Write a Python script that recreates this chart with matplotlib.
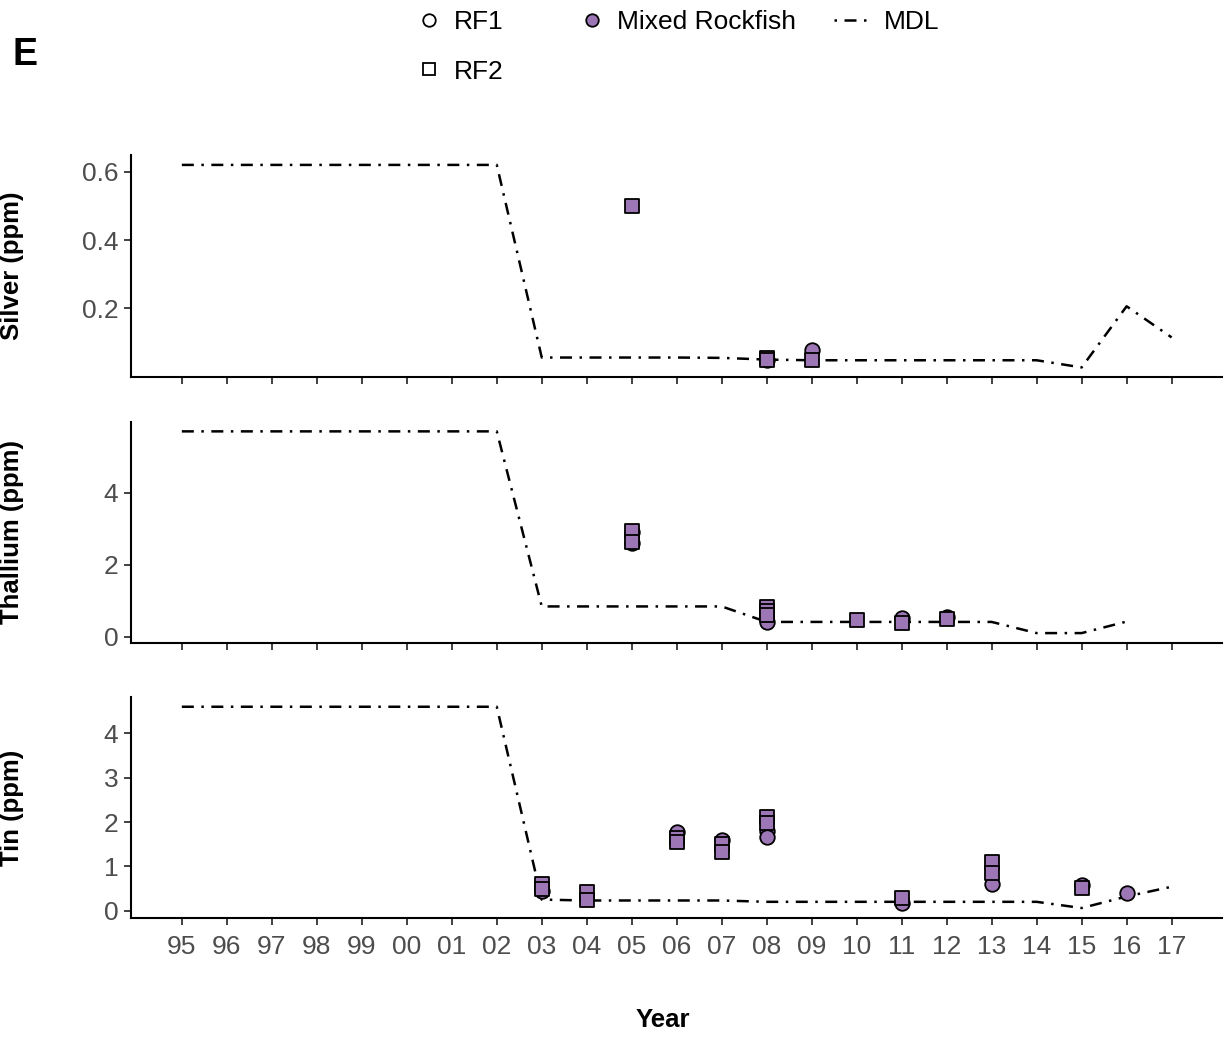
import numpy as np
import matplotlib
matplotlib.use('Agg')
import matplotlib.pyplot as plt
from matplotlib.lines import Line2D

plt.rcParams['font.family'] = ['Liberation Sans', 'DejaVu Sans']

# year labels along the x axis (positions 0..22)
years = ['95', '96', '97', '98', '99', '00', '01', '02', '03', '04', '05',
         '06', '07', '08', '09', '10', '11', '12', '13', '14', '15', '16', '17']

# method detection limits per metal
silver_mdl = [0.62, 0.62, 0.62, 0.62, 0.62, 0.62, 0.62, 0.62, 0.056, 0.056, 0.056,
              0.056, 0.055, 0.05, 0.048, 0.048, 0.048, 0.048, 0.048, 0.048, 0.027, 0.206, 0.115]
thallium_mdl = [5.7, 5.7, 5.7, 5.7, 5.7, 5.7, 5.7, 5.7, 0.84, 0.84, 0.84,
                0.84, 0.84, 0.41, 0.41, 0.41, 0.41, 0.41, 0.41, 0.1, 0.1, 0.42, np.nan]
tin_mdl = [4.6, 4.6, 4.6, 4.6, 4.6, 4.6, 4.6, 4.6, 0.25, 0.23, 0.23,
           0.23, 0.23, 0.2, 0.2, 0.2, 0.2, 0.2, 0.2, 0.2, 0.06, 0.32, 0.54]

# RF1 (circles) and RF2 (squares) samples
silver_rf1_yr = ['08', '09']
silver_rf1_val = [0.05, 0.078]
silver_rf2_yr = ['05', '08', '08', '09']
silver_rf2_val = [0.5, 0.055, 0.05, 0.049]

thallium_rf1_yr = ['05', '05', '08', '11', '12']
thallium_rf1_val = [2.6, 2.9, 0.42, 0.52, 0.56]
thallium_rf2_yr = ['05', '05', '08', '08', '08', '10', '11', '12']
thallium_rf2_val = [2.93, 2.62, 0.83, 0.72, 0.6, 0.46, 0.39, 0.49]

tin_rf1_yr = ['03', '06', '07', '08', '08', '11', '13', '15', '16']
tin_rf1_val = [0.45, 1.78, 1.6, 1.8, 1.67, 0.18, 0.6, 0.58, 0.4]
tin_rf2_yr = ['03', '03', '04', '04', '06', '06', '07', '07', '08', '08', '11', '13', '13', '15']
tin_rf2_val = [0.6, 0.5, 0.43, 0.25, 1.65, 1.55, 1.5, 1.33, 2.12, 1.98, 0.28, 1.1, 0.85, 0.51]

purple = '#9d76b5'
dash = (0, (4.8, 3, 1, 3))

panels = [
    ('Silver (ppm)', silver_mdl, silver_rf1_yr, silver_rf1_val, silver_rf2_yr, silver_rf2_val,
     (-0.001, 0.649), [0.2, 0.4, 0.6], ['0.2', '0.4', '0.6']),
    ('Thallium (ppm)', thallium_mdl, thallium_rf1_yr, thallium_rf1_val, thallium_rf2_yr, thallium_rf2_val,
     (-0.175, 5.96), [0, 2, 4], ['0', '2', '4']),
    ('Tin (ppm)', tin_mdl, tin_rf1_yr, tin_rf1_val, tin_rf2_yr, tin_rf2_val,
     (-0.165, 4.82), [0, 1, 2, 3, 4], ['0', '1', '2', '3', '4']),
]

fig = plt.figure(figsize=(12.25, 10.4), dpi=100)
W, H = 1225, 1040
tops = [155, 422, 697]
bots = [377, 643, 918]
x = np.arange(len(years))
pos = {y: i for i, y in enumerate(years)}

for k, (lab, mdl, y1, v1, y2, v2, ylim, yt, ytl) in enumerate(panels):
    ax = fig.add_axes([131 / W, 1 - bots[k] / H, (1222 - 131) / W, (bots[k] - tops[k]) / H])
    ax.plot(x, mdl, color='black', lw=1.8, linestyle=dash, zorder=2)
    ax.scatter([pos[y] for y in y1], v1, marker='o', s=110, facecolor=purple,
               edgecolor='black', linewidth=1.3, zorder=3)
    ax.scatter([pos[y] for y in y2], v2, marker='s', s=95, facecolor=purple,
               edgecolor='black', linewidth=1.3, zorder=4)
    ax.set_xlim(-1.13, 23.12)
    ax.set_ylim(*ylim)
    ax.set_yticks(yt)
    ax.set_yticklabels(ytl)
    ax.set_xticks(x)
    if k == 2:
        ax.set_xticklabels(years)
    else:
        ax.set_xticklabels([])
    for s in ['top', 'right']:
        ax.spines[s].set_visible(False)
    for s in ['left', 'bottom']:
        ax.spines[s].set_linewidth(1.5)
    ax.tick_params(axis='both', length=5, width=1.3, color='#333333',
                   labelcolor='#4d4d4d', labelsize=19)
    ax.tick_params(axis='y', pad=4)
    ax.tick_params(axis='x', pad=7)
    fig.text(12 / W, 1 - (tops[k] + bots[k]) / 2 / H, lab, rotation=90,
             ha='center', va='center', fontsize=18.5, fontweight='bold')

fig.text(663 / W, 1 - 1020 / H, 'Year', ha='center', va='center',
         fontsize=18.5, fontweight='bold')
fig.text(25 / W, 1 - 55 / H, 'E', ha='center', va='center',
         fontsize=27, fontweight='bold')

rf1 = Line2D([], [], marker='o', ls='none', markerfacecolor='white',
             markeredgecolor='black', markersize=9, markeredgewidth=1.3)
rf2 = Line2D([], [], marker='s', ls='none', markerfacecolor='white',
             markeredgecolor='black', markersize=8.5, markeredgewidth=1.3)
mixed = Line2D([], [], marker='o', ls='none', markerfacecolor=purple,
               markeredgecolor='black', markersize=9, markeredgewidth=1.3)
mdl_h = Line2D([], [], color='black', lw=1.8, linestyle=(0, (1, 3, 4.8, 3)))

leg_kw = dict(frameon=False, fontsize=19, handlelength=1.33, handletextpad=0.3,
              borderpad=0, borderaxespad=0, loc='center left', labelspacing=0.95)
l1 = fig.legend([rf1, rf2], ['RF1', 'RF2'], bbox_to_anchor=(411 / W, 1 - 47 / H), **leg_kw)
l2 = fig.legend([mixed], ['Mixed Rockfish'], bbox_to_anchor=(574 / W, 1 - 22 / H), **leg_kw)
l3 = fig.legend([mdl_h], ['MDL'], bbox_to_anchor=(834 / W, 1 - 22 / H),
                **dict(leg_kw, handletextpad=0.55))

fig.savefig('out.png', dpi=100)
